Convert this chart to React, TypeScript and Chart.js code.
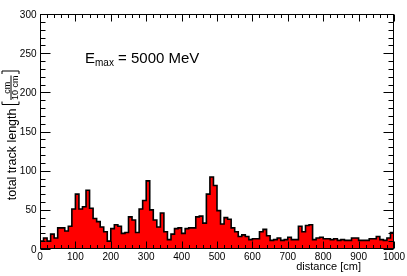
import { useEffect, useRef } from "react";
import { Chart, registerables } from "chart.js";

Chart.register(...registerables);

// track length per 10 cm bin, bins 0-10, 10-20, ... 990-1000 cm
const trackLength = [
  10, 14, 10, 19, 14, 27, 27, 23, 29, 51,
  70, 51, 54, 75, 52, 39, 35, 28, 22, 10,
  26, 31, 29, 20, 21, 41, 37, 21, 51, 62,
  87, 50, 37, 28, 46, 22, 12, 19, 26, 27,
  20, 26, 27, 27, 41, 42, 33, 70, 92, 81,
  49, 32, 40, 38, 27, 22, 16, 18, 16, 12,
  13, 13, 22, 25, 17, 11, 12, 14, 11, 12,
  15, 12, 12, 29, 22, 30, 31, 12, 14, 15,
  13, 13, 12, 13, 11, 12, 11, 11, 14, 14,
  11, 11, 11, 13, 13, 16, 12, 11, 14, 21,
];
const binWidth = 10;

const xTickValues = [0, 100, 200, 300, 400, 500, 600, 700, 800, 900, 1000];
const yTickValues = [0, 50, 100, 150, 200, 250, 300];
const xMinorStep = 20;
const yMinorStep = 10;

const xTitle = "distance [cm]";
const yTitle = "total track length";
const yUnitNum = "cm";
const yUnitDen = "10 cm";
const labelMain = "E";
const labelSub = "max";
const labelRest = " = 5000 MeV";

const FONT = "'Liberation Sans', Arial, Helvetica, sans-serif";

const decorPlugin = {
  id: "rootDecor",
  afterDraw(chart: any) {
    const ctx = chart.ctx as CanvasRenderingContext2D;
    const { left, right, top, bottom } = chart.chartArea;
    const xs = chart.scales.x;
    const ys = chart.scales.y;
    ctx.save();
    ctx.strokeStyle = "#000";
    ctx.fillStyle = "#000";
    ctx.lineWidth = 1;

    const L = Math.round(left) + 0.5;
    const R = Math.round(right) - 0.5;
    const T = Math.round(top) + 0.5;
    const B = Math.round(bottom) - 0.5;
    ctx.strokeRect(L, T, R - L, B - T);

    ctx.beginPath();
    for (let v = xs.min; v <= xs.max + 1e-6; v += xMinorStep) {
      const px = Math.round(xs.getPixelForValue(v)) + 0.5;
      const major = Math.abs(v % 100) < 1e-6;
      const len = major ? 7 : 3.5;
      ctx.moveTo(px, B);
      ctx.lineTo(px, B - len);
      ctx.moveTo(px, T);
      ctx.lineTo(px, T + len);
    }
    for (let v = ys.min; v <= ys.max + 1e-6; v += yMinorStep) {
      const py = Math.round(ys.getPixelForValue(v)) + 0.5;
      const major = Math.abs(v % 50) < 1e-6;
      const len = major ? 10 : 5;
      ctx.moveTo(L, py);
      ctx.lineTo(L + len, py);
      ctx.moveTo(R, py);
      ctx.lineTo(R - len, py);
    }
    ctx.stroke();

    // tick labels
    ctx.font = `10px ${FONT}`;
    ctx.textBaseline = "alphabetic";
    ctx.textAlign = "center";
    for (const v of xTickValues) {
      ctx.fillText(String(v), xs.getPixelForValue(v), 259.5);
    }
    ctx.textAlign = "right";
    for (const v of yTickValues) {
      ctx.fillText(String(v), 36.5, ys.getPixelForValue(v) + 3.6);
    }

    // x title
    ctx.font = `11px ${FONT}`;
    ctx.textAlign = "right";
    ctx.fillText(xTitle, 361, 270);

    // y title (rotated)
    ctx.save();
    const titleFont = `12.5px ${FONT}`;
    const fracFont = `9px ${FONT}`;
    ctx.font = titleFont;
    const tw = ctx.measureText(yTitle).width;
    ctx.font = fracFont;
    const fw = Math.max(ctx.measureText(yUnitNum).width, ctx.measureText(yUnitDen).width);
    const gap = 4;
    const brW = 3;
    const total = tw + gap + brW + 1.5 + fw + 1.5 + brW;
    const topEnd = 71;
    const startY = topEnd + total;
    ctx.translate(0, startY);
    ctx.rotate(-Math.PI / 2);
    // local u along, v across (v = screen x)
    ctx.font = titleFont;
    ctx.textAlign = "left";
    ctx.fillText(yTitle, 0, 16);
    let u = tw + gap;
    const vTop = 2;
    const vBot = 19;
    ctx.lineWidth = 1;
    ctx.beginPath();
    ctx.moveTo(u + brW, vTop);
    ctx.lineTo(u, vTop);
    ctx.lineTo(u, vBot);
    ctx.lineTo(u + brW, vBot);
    ctx.stroke();
    u += brW + 1.5;
    ctx.font = fracFont;
    ctx.textAlign = "center";
    ctx.fillText(yUnitNum, u + fw / 2, 9.5);
    ctx.fillText(yUnitDen, u + fw / 2, 18);
    ctx.beginPath();
    ctx.moveTo(u, 11);
    ctx.lineTo(u + fw, 11);
    ctx.stroke();
    u += fw + 1.5;
    ctx.beginPath();
    ctx.moveTo(u, vTop);
    ctx.lineTo(u + brW, vTop);
    ctx.lineTo(u + brW, vBot);
    ctx.lineTo(u, vBot);
    ctx.stroke();
    ctx.restore();

    // annotation
    ctx.textAlign = "left";
    ctx.textBaseline = "alphabetic";
    let ax = 85;
    ctx.font = `15px ${FONT}`;
    ctx.fillText(labelMain, ax, 62.5);
    ax += ctx.measureText(labelMain).width;
    ctx.font = `10px ${FONT}`;
    ctx.fillText(labelSub, ax, 66);
    ax += ctx.measureText(labelSub).width;
    ctx.font = `15px ${FONT}`;
    ctx.fillText(labelRest, ax, 62.5);

    ctx.restore();
  },
};

export default function App() {
  const ref = useRef<HTMLCanvasElement | null>(null);
  useEffect(() => {
    if (!ref.current) return;
    const points = trackLength.map((v, i) => ({ x: i * binWidth, y: v }));
    points.push({ x: trackLength.length * binWidth, y: trackLength[trackLength.length - 1] });
    const chart = new Chart(ref.current, {
      type: "line",
      data: {
        datasets: [
          {
            data: points,
            stepped: true,
            fill: "origin",
            backgroundColor: "#ff0000",
            borderColor: "#000000",
            borderWidth: 1.6,
            pointRadius: 0,
            tension: 0,
          } as any,
        ],
      },
      options: {
        responsive: false,
        animation: false,
        devicePixelRatio: 1,
        layout: { padding: { left: 40, top: 14, right: 13, bottom: 27 } },
        plugins: { legend: { display: false }, tooltip: { enabled: false } },
        scales: {
          x: { type: "linear", min: 0, max: 1000, display: false },
          y: { type: "linear", min: 0, max: 300, display: false },
        },
      },
      plugins: [decorPlugin],
    });
    return () => chart.destroy();
  }, []);
  return (
    <div style={{ position: "absolute", left: 0, top: 0, width: 407, height: 276, background: "#fff" }}>
      <canvas ref={ref} width={407} height={276} style={{ display: "block" }} />
    </div>
  );
}
